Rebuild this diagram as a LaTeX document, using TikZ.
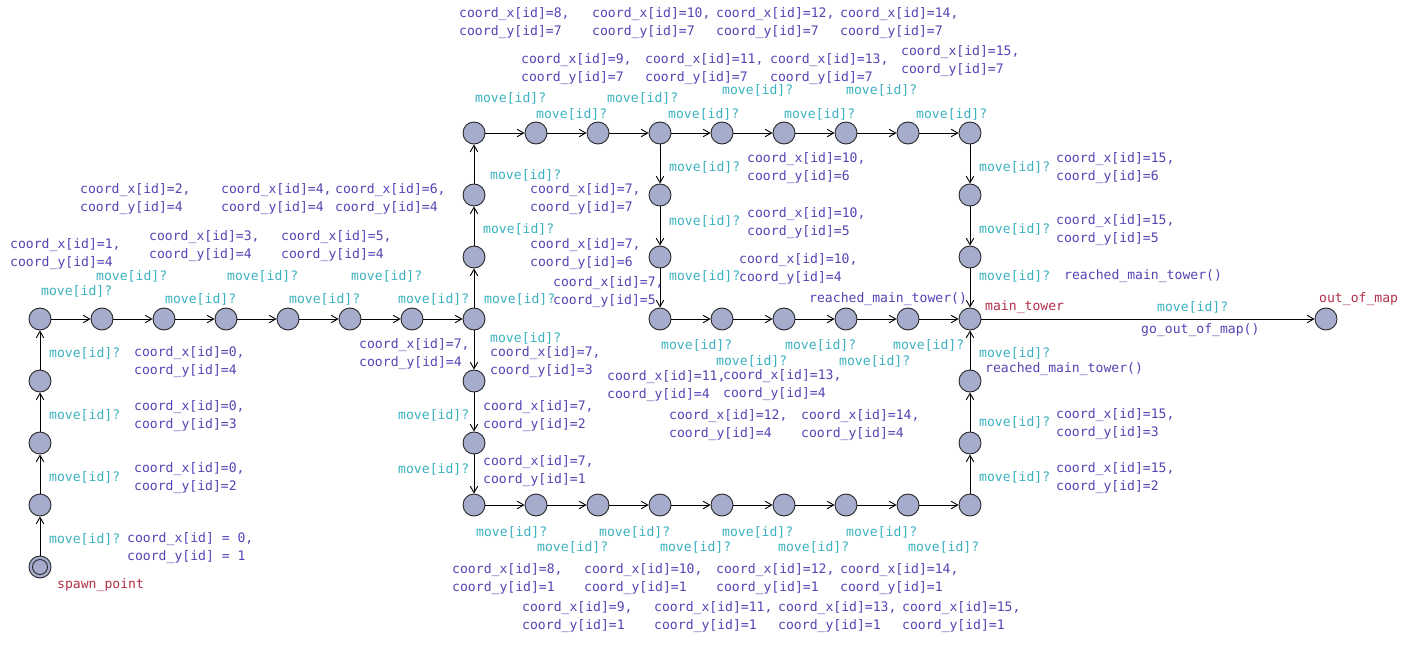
\documentclass[tikz,border=0pt]{standalone}
\usepackage{fontspec}
\setmonofont{DejaVu Sans Mono}
\usetikzlibrary{arrows.meta}
\definecolor{syncc}{RGB}{60,178,192}
\definecolor{updc}{RGB}{84,68,180}
\definecolor{namec}{RGB}{176,48,72}
\definecolor{locfill}{RGB}{165,172,204}
\definecolor{locdraw}{RGB}{40,40,40}
\newcommand{\cxy}[2]{coord\_x[id]=#1,\\coord\_y[id]=#2}
\newcommand{\mv}{move[id]?}
\begin{document}
\begin{tikzpicture}[x=1pt,y=-1pt,
  loc/.style={circle, draw=locdraw, fill=locfill, line width=0.9pt, minimum size=22pt, inner sep=0pt},
  edge/.style={draw=black, line width=0.9pt, -{Straight Barb[length=6.5pt,width=7.5pt,line width=0.9pt]}},
  lbl/.style={inner sep=0pt, anchor=west, align=left, yshift=-1.5pt, font=\ttfamily\fontsize{13.1}{18}\selectfont},
  sync/.style={lbl, text=syncc},
  upd/.style={lbl, text=updc},
  lname/.style={lbl, text=namec}]
\fill[white] (0,0) rectangle (1412,647);
\useasboundingbox (0,0) rectangle (1412,647);
% locations
\node[loc] (s) at (40,567) {};
\draw[locdraw, line width=0.9pt] (s.center) circle (7.5pt);
\node[loc] (l1) at (40,505) {};
\node[loc] (l2) at (40,443) {};
\node[loc] (l3) at (40,381) {};
\node[loc] (r0) at (40,319) {};
\node[loc] (r1) at (102,319) {};
\node[loc] (r2) at (164,319) {};
\node[loc] (r3) at (226,319) {};
\node[loc] (r4) at (288,319) {};
\node[loc] (r5) at (350,319) {};
\node[loc] (r6) at (412,319) {};
\node[loc] (c) at (474,319) {};
\node[loc] (u1) at (474,257) {};
\node[loc] (u2) at (474,195) {};
\node[loc] (t0) at (474,133) {};
\node[loc] (t1) at (536,133) {};
\node[loc] (t2) at (598,133) {};
\node[loc] (t3) at (660,133) {};
\node[loc] (t4) at (722,133) {};
\node[loc] (t5) at (784,133) {};
\node[loc] (t6) at (846,133) {};
\node[loc] (t7) at (908,133) {};
\node[loc] (t8) at (970,133) {};
\node[loc] (m1) at (660,195) {};
\node[loc] (m2) at (660,257) {};
\node[loc] (m0) at (660,319) {};
\node[loc] (m3) at (722,319) {};
\node[loc] (m4) at (784,319) {};
\node[loc] (m5) at (846,319) {};
\node[loc] (m6) at (908,319) {};
\node[loc] (mt) at (970,319) {};
\node[loc] (q1) at (970,195) {};
\node[loc] (q2) at (970,257) {};
\node[loc] (d1) at (474,381) {};
\node[loc] (d2) at (474,443) {};
\node[loc] (b0) at (474,505) {};
\node[loc] (b1) at (536,505) {};
\node[loc] (b2) at (598,505) {};
\node[loc] (b3) at (660,505) {};
\node[loc] (b4) at (722,505) {};
\node[loc] (b5) at (784,505) {};
\node[loc] (b6) at (846,505) {};
\node[loc] (b7) at (908,505) {};
\node[loc] (b8) at (970,505) {};
\node[loc] (p1) at (970,443) {};
\node[loc] (p2) at (970,381) {};
\node[loc] (out) at (1326,319) {};
% edges
\draw[edge] (s) -- (l1);
\draw[edge] (l1) -- (l2);
\draw[edge] (l2) -- (l3);
\draw[edge] (l3) -- (r0);
\draw[edge] (r0) -- (r1);
\draw[edge] (r1) -- (r2);
\draw[edge] (r2) -- (r3);
\draw[edge] (r3) -- (r4);
\draw[edge] (r4) -- (r5);
\draw[edge] (r5) -- (r6);
\draw[edge] (r6) -- (c);
\draw[edge] (c) -- (u1);
\draw[edge] (u1) -- (u2);
\draw[edge] (u2) -- (t0);
\draw[edge] (t0) -- (t1);
\draw[edge] (t1) -- (t2);
\draw[edge] (t2) -- (t3);
\draw[edge] (t3) -- (t4);
\draw[edge] (t4) -- (t5);
\draw[edge] (t5) -- (t6);
\draw[edge] (t6) -- (t7);
\draw[edge] (t7) -- (t8);
\draw[edge] (t3) -- (m1);
\draw[edge] (m1) -- (m2);
\draw[edge] (m2) -- (m0);
\draw[edge] (m0) -- (m3);
\draw[edge] (m3) -- (m4);
\draw[edge] (m4) -- (m5);
\draw[edge] (m5) -- (m6);
\draw[edge] (m6) -- (mt);
\draw[edge] (t8) -- (q1);
\draw[edge] (q1) -- (q2);
\draw[edge] (q2) -- (mt);
\draw[edge] (c) -- (d1);
\draw[edge] (d1) -- (d2);
\draw[edge] (d2) -- (b0);
\draw[edge] (b0) -- (b1);
\draw[edge] (b1) -- (b2);
\draw[edge] (b2) -- (b3);
\draw[edge] (b3) -- (b4);
\draw[edge] (b4) -- (b5);
\draw[edge] (b5) -- (b6);
\draw[edge] (b6) -- (b7);
\draw[edge] (b7) -- (b8);
\draw[edge] (b8) -- (p1);
\draw[edge] (p1) -- (p2);
\draw[edge] (p2) -- (mt);
\draw[edge] (mt) -- (out);
% names
\node[lname] (nsp) at (57,584) {spawn\_point};
\node[lname] (nmt) at (985,306) {main\_tower};
\node[lname] (nout) at (1319,298) {out\_of\_map};
% sync labels
\node[sync] (s01) at (49,538) {\mv};
\node[sync] (s02) at (49,476) {\mv};
\node[sync] (s03) at (49,414) {\mv};
\node[sync] (s04) at (49,352) {\mv};
\node[sync] (s05) at (41,290) {\mv};
\node[sync] (s06) at (96,275) {\mv};
\node[sync] (s07) at (165,298) {\mv};
\node[sync] (s08) at (227,275) {\mv};
\node[sync] (s09) at (289,298) {\mv};
\node[sync] (s10) at (351,275) {\mv};
\node[sync] (s11) at (398,298) {\mv};
\node[sync] (s12) at (484,298) {\mv};
\node[sync] (s13) at (483,228) {\mv};
\node[sync] (s14) at (490,174) {\mv};
\node[sync] (s15) at (490,337) {\mv};
\node[sync] (s16) at (398,414) {\mv};
\node[sync] (s17) at (398,468) {\mv};
\node[sync] (s18) at (475,97) {\mv};
\node[sync] (s19) at (536,113) {\mv};
\node[sync] (s20) at (607,97) {\mv};
\node[sync] (s21) at (668,113) {\mv};
\node[sync] (s22) at (722,89) {\mv};
\node[sync] (s23) at (784,113) {\mv};
\node[sync] (s24) at (846,89) {\mv};
\node[sync] (s25) at (916,113) {\mv};
\node[sync] (s26) at (669,166) {\mv};
\node[sync] (s27) at (669,220) {\mv};
\node[sync] (s28) at (669,275) {\mv};
\node[sync] (s29) at (661,344) {\mv};
\node[sync] (s30) at (716,360) {\mv};
\node[sync] (s31) at (785,344) {\mv};
\node[sync] (s32) at (839,360) {\mv};
\node[sync] (s33) at (893,344) {\mv};
\node[sync] (s34) at (979,166) {\mv};
\node[sync] (s35) at (979,228) {\mv};
\node[sync] (s36) at (979,275) {\mv};
\node[sync] (s37) at (979,352) {\mv};
\node[sync] (s38) at (979,421) {\mv};
\node[sync] (s39) at (979,476) {\mv};
\node[sync] (s40) at (476,531) {\mv};
\node[sync] (s41) at (537,546) {\mv};
\node[sync] (s42) at (599,531) {\mv};
\node[sync] (s43) at (660,546) {\mv};
\node[sync] (s44) at (722,531) {\mv};
\node[sync] (s45) at (778,546) {\mv};
\node[sync] (s46) at (846,531) {\mv};
\node[sync] (s47) at (908,546) {\mv};
\node[sync] (s48) at (1157,306) {\mv};
% update labels
\node[upd] (a01) at (127,547) {coord\_x[id] = 0,\\coord\_y[id] = 1};
\node[upd] (a02) at (134,477) {\cxy{0}{2}};
\node[upd] (a03) at (134,415) {\cxy{0}{3}};
\node[upd] (a04) at (134,361) {\cxy{0}{4}};
\node[upd] (a05) at (10,253) {\cxy{1}{4}};
\node[upd] (a06) at (80,198) {\cxy{2}{4}};
\node[upd] (a07) at (149,245) {\cxy{3}{4}};
\node[upd] (a08) at (221,198) {\cxy{4}{4}};
\node[upd] (a09) at (281,245) {\cxy{5}{4}};
\node[upd] (a10) at (335,198) {\cxy{6}{4}};
\node[upd] (a11) at (359,353) {\cxy{7}{4}};
\node[upd] (a12) at (553,291) {\cxy{7}{5}};
\node[upd] (a13) at (530,253) {\cxy{7}{6}};
\node[upd] (a14) at (530,198) {\cxy{7}{7}};
\node[upd] (a15) at (490,361) {\cxy{7}{3}};
\node[upd] (a16) at (483,415) {\cxy{7}{2}};
\node[upd] (a17) at (483,470) {\cxy{7}{1}};
\node[upd] (a18) at (459,22) {\cxy{8}{7}};
\node[upd] (a19) at (592,22) {\cxy{10}{7}};
\node[upd] (a20) at (716,22) {\cxy{12}{7}};
\node[upd] (a21) at (840,22) {\cxy{14}{7}};
\node[upd] (a22) at (521,68) {\cxy{9}{7}};
\node[upd] (a23) at (645,68) {\cxy{11}{7}};
\node[upd] (a24) at (770,68) {\cxy{13}{7}};
\node[upd] (a25) at (901,60) {\cxy{15}{7}};
\node[upd] (a26) at (747,167) {\cxy{10}{6}};
\node[upd] (a27) at (747,222) {\cxy{10}{5}};
\node[upd] (a28) at (739,268) {\cxy{10}{4}};
\node[upd] (a29) at (1056,167) {\cxy{15}{6}};
\node[upd] (a30) at (1056,229) {\cxy{15}{5}};
\node[upd] (a31) at (1056,423) {\cxy{15}{3}};
\node[upd] (a32) at (1056,477) {\cxy{15}{2}};
\node[upd] (a33) at (607,385) {\cxy{11}{4}};
\node[upd] (a34) at (723,384) {\cxy{13}{4}};
\node[upd] (a35) at (669,424) {\cxy{12}{4}};
\node[upd] (a36) at (801,424) {\cxy{14}{4}};
\node[upd] (a37) at (452,578) {\cxy{8}{1}};
\node[upd] (a38) at (584,578) {\cxy{10}{1}};
\node[upd] (a39) at (716,578) {\cxy{12}{1}};
\node[upd] (a40) at (840,578) {\cxy{14}{1}};
\node[upd] (a41) at (522,616) {\cxy{9}{1}};
\node[upd] (a42) at (654,616) {\cxy{11}{1}};
\node[upd] (a43) at (778,616) {\cxy{13}{1}};
\node[upd] (a44) at (902,616) {\cxy{15}{1}};
\node[upd] (a45) at (809,298) {reached\_main\_tower()};
\node[upd] (a46) at (1064,275) {reached\_main\_tower()};
\node[upd] (a47) at (985,368) {reached\_main\_tower()};
\node[upd] (a48) at (1141,329) {go\_out\_of\_map()};
\end{tikzpicture}
\end{document}
